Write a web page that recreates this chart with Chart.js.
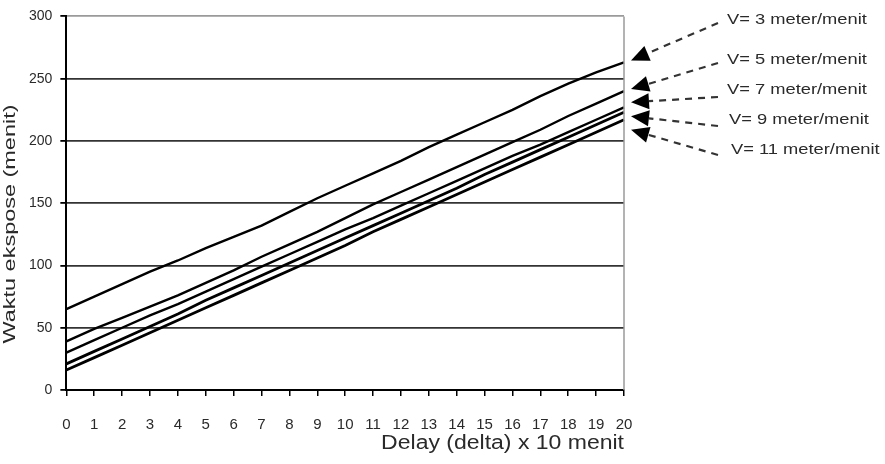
<!DOCTYPE html>
<html>
<head>
<meta charset="utf-8">
<script src="https://cdn.jsdelivr.net/npm/chart.js@4"></script>
<style>
  html, body { margin: 0; padding: 0; background: #fff; }
</style>
</head>
<body>
<canvas id="chart" width="885" height="464"></canvas>
<script>
// delay steps (x 10 menit)
const delayLabels = ['0','1','2','3','4','5','6','7','8','9','10','11','12','13','14','15','16','17','18','19','20'];

// waktu ekspose (menit)
const v3 =  [65, 75, 85, 95, 104, 114, 123, 132, 143, 154, 164, 174, 184, 195, 205, 215, 225, 236, 246, 255, 263];
const v5 =  [39, 49, 58, 67, 76, 86, 96, 107, 117, 127, 138, 149, 159, 169, 179, 189, 199, 209, 220, 230, 240];
const v7 =  [30, 40, 50, 60, 69, 79, 89, 99, 109, 119, 129, 138, 148, 158, 168, 178, 188, 197, 207, 217, 227];
const v9 =  [21, 31, 41, 51, 61, 72, 82, 92, 102, 112, 122, 132, 142, 152, 162, 173, 183, 193, 203, 213, 223];
const v11 = [16, 26, 36, 46, 56, 66, 76, 86, 96, 106, 116, 127, 137, 147, 157, 167, 177, 187, 197, 207, 217];

const seriesNames = ['V= 3 meter/menit', 'V= 5 meter/menit', 'V= 7 meter/menit', 'V= 9 meter/menit', 'V= 11 meter/menit'];
const yTicks = [0, 50, 100, 150, 200, 250, 300];
const xTitle = 'Delay (delta) x 10 menit';
const yTitle = 'Waktu ekspose (menit)';

const FONT = '"Liberation Sans", Arial, sans-serif';

// callout text spot, dash start, and arrow tip nudge
const callouts = [
  { tx: 727, ty: 20,  sx: 718, sy: 23,  dy: -2 },
  { tx: 727, ty: 60,  sx: 718, sy: 63,  dy: -2 },
  { tx: 727, ty: 90,  sx: 718, sy: 97,  dy: -5 },
  { tx: 729, ty: 120, sx: 718, sy: 126, dy: 4 },
  { tx: 731, ty: 150, sx: 718, sy: 155, dy: 10 }
];

// draw text stretched horizontally, the scan looks wider than normal
function wideText(ctx, text, x, y, sx, align) {
  ctx.save();
  ctx.translate(x, y);
  ctx.scale(sx, 1);
  ctx.textAlign = align || 'left';
  ctx.fillText(text, 0, 0);
  ctx.restore();
}

const extrasPlugin = {
  id: 'extras',
  afterDraw(chart) {
    const { ctx, chartArea, scales } = chart;
    ctx.save();

    // gray right border
    ctx.strokeStyle = '#9a9a9a';
    ctx.lineWidth = 1.5;
    ctx.beginPath();
    ctx.moveTo(chartArea.right, chartArea.top);
    ctx.lineTo(chartArea.right, chartArea.bottom);
    ctx.stroke();

    // axis titles
    ctx.fillStyle = '#2a2a2a';
    ctx.textBaseline = 'alphabetic';
    ctx.font = '20px ' + FONT;
    wideText(ctx, xTitle, 624, 449, 1.15, 'right');

    ctx.save();
    ctx.translate(16, 224);
    ctx.rotate(-Math.PI / 2);
    ctx.font = '17px ' + FONT;
    ctx.textBaseline = 'bottom';
    ctx.fillStyle = '#2a2a2a';
    wideText(ctx, yTitle, 0, 3, 1.38, 'center');
    ctx.restore();

    // callouts with dashed arrows
    chart.data.datasets.forEach((ds, i) => {
      const c = callouts[i];
      const last = ds.data[ds.data.length - 1];
      const tipX = scales.x.getPixelForValue(ds.data.length - 1) + 7;
      const tipY = scales.y.getPixelForValue(last) + c.dy;
      const ang = Math.atan2(tipY - c.sy, tipX - c.sx);
      const headLen = 18, headW = 8;
      const bx = tipX - Math.cos(ang) * headLen;
      const by = tipY - Math.sin(ang) * headLen;

      ctx.strokeStyle = '#333';
      ctx.lineWidth = 2.2;
      ctx.setLineDash([7, 6]);
      ctx.beginPath();
      ctx.moveTo(c.sx, c.sy);
      ctx.lineTo(bx, by);
      ctx.stroke();
      ctx.setLineDash([]);

      ctx.fillStyle = '#000';
      ctx.beginPath();
      ctx.moveTo(tipX, tipY);
      ctx.lineTo(bx + Math.sin(ang) * headW, by - Math.cos(ang) * headW);
      ctx.lineTo(bx - Math.sin(ang) * headW, by + Math.cos(ang) * headW);
      ctx.closePath();
      ctx.fill();

      ctx.fillStyle = '#2a2a2a';
      ctx.font = '15px ' + FONT;
      ctx.textBaseline = 'middle';
      wideText(ctx, ds.label, c.tx, c.ty, 1.22, 'left');
    });
    ctx.restore();
  }
};

const makeSet = (label, data, w) => ({
  label,
  data,
  borderColor: '#000',
  borderWidth: w,
  pointRadius: 0,
  tension: 0,
  fill: false
});

new Chart(document.getElementById('chart'), {
  type: 'line',
  data: {
    labels: delayLabels,
    datasets: [
      makeSet(seriesNames[0], v3, 2.4),
      makeSet(seriesNames[1], v5, 2.4),
      makeSet(seriesNames[2], v7, 2.4),
      makeSet(seriesNames[3], v9, 2.8),
      makeSet(seriesNames[4], v11, 2.8)
    ]
  },
  options: {
    responsive: false,
    animation: false,
    layout: { padding: { left: 21, right: 261, top: 2, bottom: 10 } },
    plugins: {
      legend: { display: false },
      tooltip: { enabled: false }
    },
    scales: {
      x: {
        offset: false,
        grid: {
          drawOnChartArea: false,
          drawTicks: true,
          tickLength: 6,
          color: '#000',
          lineWidth: 1.5
        },
        border: { color: '#000', width: 2 },
        ticks: {
          color: '#2a2a2a',
          font: { family: FONT, size: 15 },
          padding: 20,
          maxRotation: 0,
          autoSkip: false
        }
      },
      y: {
        min: 0,
        max: 300,
        afterBuildTicks: (axis) => { axis.ticks = yTicks.map(v => ({ value: v })); },
        grid: {
          color: (c) => c.tick && c.tick.value === 300 ? '#9a9a9a' : '#333',
          lineWidth: 1.8,
          drawTicks: true,
          tickLength: 6,
          tickColor: '#000'
        },
        border: { color: '#000', width: 2 },
        ticks: {
          color: '#2a2a2a',
          font: { family: FONT, size: 14 },
          padding: 8
        }
      }
    }
  },
  plugins: [extrasPlugin]
});
</script>
</body>
</html>
